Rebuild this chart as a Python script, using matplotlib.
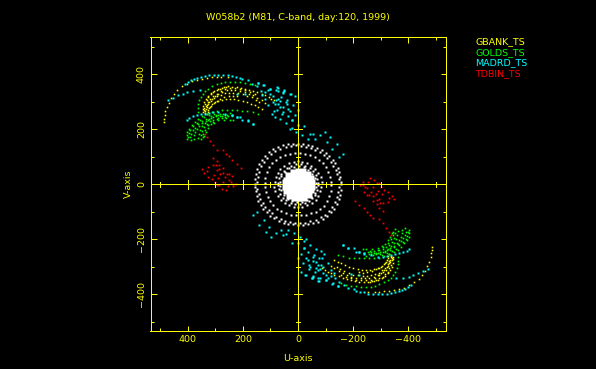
import matplotlib
matplotlib.use("Agg")
import matplotlib.pyplot as plt

W, H = 596, 369
YEL = "#ffff00"
GRN = "#00ff00"
CYA = "#00ffff"
RED = "#ff0000"
WHT = "#ffffff"

TITLE = "W058b2 (M81, C-band, day:120, 1999)"
XLABEL = "U-axis"
YLABEL = "V-axis"
STATIONS = ["GBANK_TS", "GOLDS_TS", "MADRD_TS", "TDBIN_TS"]
X_TICKS = [400, 200, 0, -200, -400]
Y_TICKS = [400, 200, 0, -200, -400]

# (u, v) samples read from the upper half; each also has a conjugate point (-u, -v)
GBANK_UV = [
    (485,227),(485,239),(484,251),(481,265),(476,281),(469,297),(461,315),(450,329),(438,344),(422,356),
    (404,366),(386,375),(368,380),(349,383),(331,387),(313,389),(295,390),(278,391),(255,390),
    (343,263),(342,276),(337,293),(331,305),(325,317),(317,327),(307,335),(295,341),(283,348),(268,352),
    (253,356),(238,355),(222,354),(208,351),(192,348),(176,344),(162,339),(147,334),(132,329),(120,323),
    (107,317),(97,311),(87,305),
    (337,259),(334,274),(329,287),(322,299),(313,311),(301,321),(289,329),(274,335),(259,341),(243,341),
    (228,341),(210,339),(192,335),(176,329),(162,323),(147,315),(132,305),(120,297),
    (331,254),(325,269),(319,281),(311,291),(301,299),(289,304),(277,308),(262,310),(247,311),(232,310),
    (216,308),(201,304),(186,299),(172,293),(156,287),(144,281),(132,275),
    (340,269),(334,283),(326,298),(318,310),(307,320),(295,329),(281,339),(265,346),(247,349),(228,349),
    (210,346),(192,341),(174,335),(156,329),
    (346,272),(345,286),(341,299),(335,310),(327,322),(316,333),(303,340),(290,346),(276,351),(260,355),
    (336,265),(330,279),(325,290),(316,303),(306,312),(294,321),(281,326),(266,330),(251,332),(234,333),
    (216,331),(198,328),(184,322),(168,316),(154,308),(140,299),
    (328,262),(322,276),(315,286),(305,296),(294,303),(282,309),(268,316),(252,320),(236,321),(220,320),
]
GOLDS_UV = [
    (364,263),(364,277),(363,291),(359,305),(353,317),(346,329),(336,339),(325,348),(311,356),(295,363),
    (280,368),(265,372),(247,373),(228,372),(210,371),(192,369),(174,366),(156,360),
    (404,166),(404,178),(401,190),(397,202),(386,214),(374,227),(362,239),(347,247),(331,254),(313,262),
    (295,266),(277,269),(259,269),(241,269),(222,269),(204,268),(186,266),(164,262),(144,257),
    (389,160),(392,172),(389,184),(382,196),(374,206),(362,218),(349,229),(334,239),(317,247),(299,252),
    (283,254),(265,252),(253,247),(234,235),
    (353,164),(353,178),(349,194),(341,208),(331,220),(319,229),(307,235),(291,240),(277,242),(262,241),(247,235),
    (377,166),(377,178),(374,190),(368,202),(358,213),(347,223),(335,231),(322,239),(307,245),(289,251),(271,257),(247,259),
    (346,172),(343,184),(337,199),(325,214),(307,227),(289,233),(268,235),
    (398,172),(396,186),(392,198),(380,210),(368,222),(356,234),(340,243),(322,251),(306,257),
    (362,170),(360,184),(356,198),(348,212),(338,224),(328,234),(314,241),(298,247),(282,248),(266,246),
    (340,176),(334,190),(328,204),(316,218),(304,224),(292,238),(276,249),(258,252),(240,248),
]
MADRD_UV = [
    (410,366),(400,373),(389,379),(377,383),(365,387),(353,391),(337,394),(322,397),(305,397),(289,398),
    (271,397),(253,397),(241,392),(226,390),(210,387),(204,381),(180,378),(168,366),(146,369),(123,362),
    (101,348),(74,351),(80,341),(49,339),
    (470,308),(455,315),(434,323),(416,329),(401,335),(380,339),(355,342),
    (144,368),(150,356),(126,360),(102,347),(108,341),(77,353),(74,339),(50,341),(53,332),(27,329),
    (223,329),(192,327),(132,323),(102,329),(65,303),(71,293),(41,293),(17,287),(53,263),(77,269),
    (59,257),(35,247),(23,232),(180,230),(162,220),(211,245),(223,245),(241,253),(120,311),(108,287),(83,293),
    (404,235),(394,241),(382,247),(368,251),(353,254),(337,257),(322,259),(307,263),(289,264),(265,257),
    (241,250),(222,245),(204,233),(182,233),(162,220),
    (-1,214),(-1,269),(11,320),(41,308),(29,329),(53,335),(71,311),(35,275),(65,281),(23,233),
    (-44,181),(-56,184),(-80,178),(-99,190),(-117,172),(-141,148),(-163,111),(-147,99),(-125,130),(-105,155),(-60,165),(-35,165),
    (92,300),(60,318),(44,300),(88,268),(96,254),(66,236),(44,222),(20,205),(6,190),(-16,178),
    (134,340),(118,334),(90,322),(78,306),(56,280),(28,268),(12,252),(84,244),(30,200),(-22,212),
]
TIDBIN_UV = [
    (337,184),(329,172),(319,157),(307,142),(293,126),(271,123),(262,111),(250,102),(238,87),(222,75),(208,60),
    (307,97),(295,85),(325,63),(350,54),(341,41),(329,48),(328,27),(313,21),(307,69),(297,69),(285,71),
    (285,57),(271,59),(294,53),(304,35),(283,36),(273,42),(259,39),(289,23),(265,27),(249,39),(241,29),
    (252,14),(243,8),(271,8),(285,-4),(277,-16),(262,-22),(253,-7),(301,8),(295,-4),(235,2),(226,2),(235,-7),
]
SHORT_UV = [
    (156,0),(155,20),(152,38),(148,55),(141,72),(132,88),(120,102),(106,116),(90,127),(72,136),(54,142),
    (36,146),(18,148),(0,147),(-18,146),(-36,143),(-52,140),(-70,133),(-86,124),(-100,114),(-114,102),
    (-126,90),(-136,76),(-145,60),(-150,44),(-154,26),(-156,8),
    (148,8),(146,28),(142,46),(134,66),(124,82),(112,96),(98,110),(82,120),(64,128),(44,135),(26,139),(8,141),
    (-10,140),(-28,137),(-46,132),(-62,126),(-78,117),(-94,106),(-106,95),(-118,82),(-128,68),(-137,52),(-143,36),(-147,18),
    (120,4),(118,24),(113,44),(105,62),(94,78),(80,90),(64,100),(46,106),(28,110),(10,112),(-8,112),(-26,110),
    (-44,105),(-60,98),(-76,88),(-90,76),(-102,62),(-110,46),(-116,28),(-120,10),
    (84,8),(80,26),(74,42),(64,56),(50,68),(34,76),(16,82),(0,84),(-16,82),(-32,76),(-48,68),(-62,56),(-74,42),(-82,26),(-86,8),
    (74,4),(70,22),(62,38),(52,50),(40,60),(26,68),(8,72),(-10,72),(-26,68),(-42,58),(-54,48),(-64,34),(-70,18),(-74,4),
    (66,10),(60,30),(48,46),(32,58),(14,64),(-4,66),(-22,62),(-38,52),(-52,38),(-62,22),(-66,6),
]
CORE_UV = [
    (0,0),(24,0),(20,18),(6,26),(-10,26),(-22,14),(-24,2),(36,8),(28,28),(12,38),(-6,40),(-24,30),(-36,14),(-40,0),
]

SERIES = [
    (GBANK_UV, YEL, 1.6), (GOLDS_UV, GRN, 1.7), (MADRD_UV, CYA, 2.2), (TIDBIN_UV, RED, 1.8),
]

plt.rcParams["font.family"] = ["DejaVu Sans"]
fig = plt.figure(figsize=(W / 100, H / 100), dpi=100, facecolor="black")
L, R, T, B = 150.5, 445.5, 37.3, 331.3
ax = fig.add_axes([L / W, 1 - B / H, (R - L) / W, (B - T) / H], facecolor="black")
ax.set_xlim(535, -535)
ax.set_ylim(-534, 534)
px = 0.72


def dots(uv, color, size_px, z=3, marker="s"):
    us = [p[0] for p in uv] + [-p[0] for p in uv]
    vs = [p[1] for p in uv] + [-p[1] for p in uv]
    ax.plot(us, vs, ls="none", marker=marker, ms=size_px * px, mfc=color, mec="none",
            antialiased=False, zorder=z)


dots(SHORT_UV, WHT, 2.2)
for uv, c, s in SERIES:
    dots(uv, c, s)

LW = 0.72
# zero lines with crossing ticks
ax.axhline(0, color=YEL, lw=LW, antialiased=False, zorder=4)
ax.axvline(0, color=YEL, lw=LW, antialiased=False, zorder=4)
dots(CORE_UV, WHT, 11, z=5)

for t in range(-500, 501, 100):
    if t == 0:
        continue
    h = 16 if t % 200 == 0 else 9
    for xy, d in (((t, 0), (0, h)), ((0, t), (h, 0))):
        ax.plot([xy[0] - d[0], xy[0] + d[0]], [xy[1] - d[1], xy[1] + d[1]], color=YEL,
                lw=LW, antialiased=False, zorder=4)

for s in ax.spines.values():
    s.set_color(YEL)
    s.set_linewidth(LW)
    s.set_antialiased(False)

ax.set_xticks(X_TICKS)
ax.set_yticks(Y_TICKS)
ax.set_xticks(range(-500, 501, 100), minor=True)
ax.set_yticks(range(-500, 501, 100), minor=True)
ax.tick_params(which="major", direction="in", length=5.5 * px, width=LW, color=YEL,
               top=True, right=True, labelbottom=False, labelleft=False)
ax.tick_params(which="minor", direction="in", length=3 * px, width=LW, color=YEL, top=True, right=True)

FS = 6.8
def txt(x, y, s, color=YEL, **kw):
    kw.setdefault("ha", "center")
    fig.text(x / W, 1 - y / H, s, color=color, fontsize=FS, va="center", **kw)

txt(298, 17, TITLE)
for t in X_TICKS:
    x = 298 - t * 0.2757
    txt(x, 340, str(t).replace("-", "\u2212"))
for t in Y_TICKS:
    y = 184 - t * 0.2755
    txt(141.5, y, str(t).replace("-", "\u2212"), rotation=90)
txt(298, 358.5, XLABEL)
txt(128.5, 184, YLABEL, rotation=90)
for y, s, c in zip([41.7, 52.2, 62.7, 73.2], STATIONS, [YEL, GRN, CYA, RED]):
    txt(475, y, s, color=c, ha="left")

fig.savefig("out.png", dpi=100, facecolor="black")
